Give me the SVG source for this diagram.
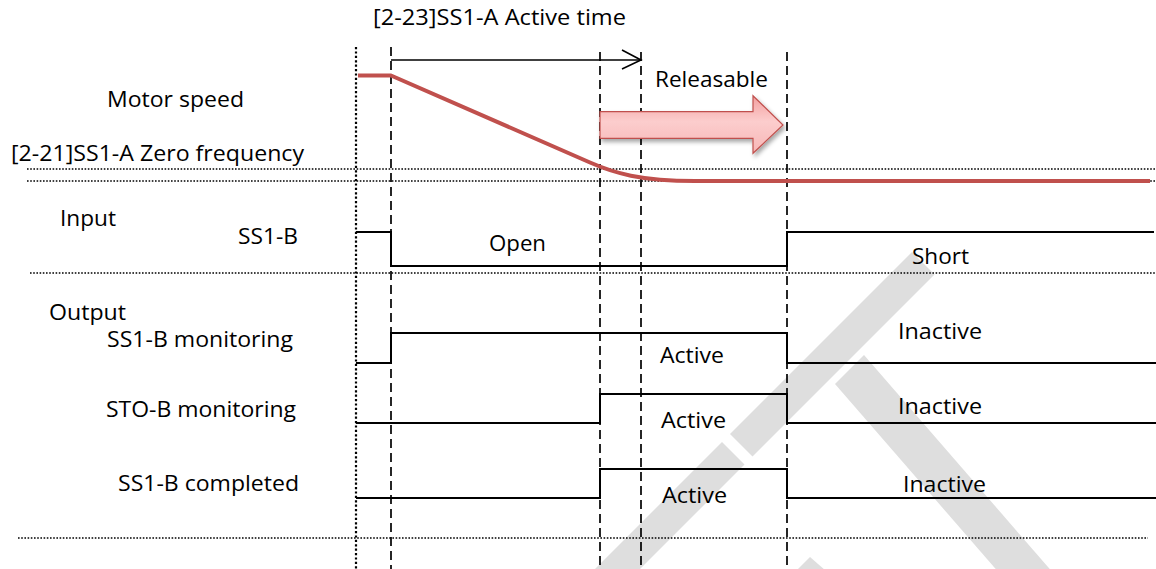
<svg xmlns="http://www.w3.org/2000/svg" width="1156" height="569" viewBox="0 0 1156 569">
  <style>
    text { font-family: "Open Sans", "Noto Sans", "Liberation Sans", sans-serif; font-size: 21.5px; fill: #000; }
    .sig { fill: none; stroke: #000; stroke-width: 2; stroke-linejoin: miter; }
    .dash { fill: none; stroke: #000; stroke-width: 1.7; stroke-dasharray: 9 5; }
    .vdot { fill: none; stroke: #000; stroke-width: 2.2; stroke-dasharray: 2.2 2.2; }
    .hdot { fill: none; stroke: #000; stroke-width: 1.6; stroke-dasharray: 1.6 1.6; }
    .speed { fill: none; stroke: #C0504D; stroke-width: 4; stroke-linejoin: round; }
    .wm { fill: #DEDEDE; }
  </style>
  <defs>
    <linearGradient id="relFill" x1="0" y1="0" x2="0" y2="1">
      <stop offset="0" stop-color="#F39F9F"/>
      <stop offset="0.45" stop-color="#FCCDCD"/>
      <stop offset="1" stop-color="#F7B6B6"/>
    </linearGradient>
    <filter id="shadow" x="-10%" y="-30%" width="130%" height="180%">
      <feDropShadow dx="2" dy="3" stdDeviation="2" flood-color="#000" flood-opacity="0.35"/>
    </filter>
  </defs>

  <rect width="1156" height="569" fill="#fff"/>

  <!-- background mark -->
  <g id="mark">
    <polygon class="wm" points="912,252 934.5,274.5 752.5,456.5 730,434"/>
    <polygon class="wm" points="722,442 744.5,464.5 554.5,654.5 532,632"/>
    <polygon class="wm" points="835,384 864,355 1094,620 1040,620"/>
    <polygon class="wm" points="810,557 880,618 830,640 770,597"/>
  </g>

  <!-- time grid -->
  <g id="grid">
    <line class="vdot" x1="356" y1="47" x2="356" y2="569"/>
    <line class="dash" x1="391" y1="47" x2="391" y2="569"/>
    <line class="dash" x1="600" y1="52" x2="600" y2="569"/>
    <line class="dash" x1="641" y1="52" x2="641" y2="569"/>
    <line class="dash" x1="787" y1="52" x2="787" y2="569"/>
    <line class="hdot" x1="27" y1="169" x2="1156" y2="169"/>
    <line class="hdot" x1="27" y1="181" x2="1156" y2="181"/>
    <line class="hdot" x1="30" y1="273" x2="1156" y2="273"/>
    <line class="hdot" x1="18" y1="538" x2="1148" y2="538"/>
  </g>

  <!-- connectors: speed curve, signal traces, timing arrow -->
  <g id="connectors">
    <path id="motor-speed" class="speed" d="M358,75.5 L391,75.5 L590,162.5 C614,173 640,181 695,181 L1150,181"/>
    <path id="ss1b-input" class="sig" d="M356,232 H391 V266 H787 V232 H1154"/>
    <path id="ss1b-monitoring" class="sig" d="M356,363 H391 V333 H787 V363 H1156"/>
    <path id="stob-monitoring" class="sig" d="M356,423 H600 V394 H787 V423 H1156"/>
    <path id="ss1b-completed" class="sig" d="M356,498 H600 V469 H787 V498 H1156"/>
    <g id="active-time-arrow" fill="none" stroke="#000" stroke-width="1.6">
      <line x1="391" y1="60" x2="640" y2="60"/>
      <polyline points="622,50 641,60 622,69"/>
    </g>
  </g>

  <!-- releasable block arrow -->
  <g id="releasable">
    <polygon points="600,111.7 753,111.7 753,95.7 783,125 753,153.3 753,138.3 600,138.3"
             fill="url(#relFill)" stroke="#C0504D" stroke-width="1.2" filter="url(#shadow)"/>
    <text x="655" y="87" textLength="113" lengthAdjust="spacingAndGlyphs">Releasable</text>
  </g>

  <!-- labels -->
  <g id="labels">
    <text x="373" y="25" textLength="253" lengthAdjust="spacingAndGlyphs">[2-23]SS1-A Active time</text>
    <text x="107" y="107" textLength="137" lengthAdjust="spacingAndGlyphs">Motor speed</text>
    <text x="11" y="161" textLength="293" lengthAdjust="spacingAndGlyphs">[2-21]SS1-A Zero frequency</text>
    <text x="60" y="226" textLength="56" lengthAdjust="spacingAndGlyphs">Input</text>
    <text x="238" y="244" textLength="60" lengthAdjust="spacingAndGlyphs">SS1-B</text>
    <text x="489" y="251" textLength="57" lengthAdjust="spacingAndGlyphs">Open</text>
    <text x="912" y="264" textLength="57" lengthAdjust="spacingAndGlyphs">Short</text>
    <text x="49" y="320" textLength="77" lengthAdjust="spacingAndGlyphs">Output</text>
    <text x="107" y="347" textLength="186" lengthAdjust="spacingAndGlyphs">SS1-B monitoring</text>
    <text x="898" y="339" textLength="84" lengthAdjust="spacingAndGlyphs">Inactive</text>
    <text x="660" y="363" textLength="64" lengthAdjust="spacingAndGlyphs">Active</text>
    <text x="106" y="417" textLength="190" lengthAdjust="spacingAndGlyphs">STO-B monitoring</text>
    <text x="898" y="414" textLength="84" lengthAdjust="spacingAndGlyphs">Inactive</text>
    <text x="661" y="428" textLength="65" lengthAdjust="spacingAndGlyphs">Active</text>
    <text x="118" y="491" textLength="181" lengthAdjust="spacingAndGlyphs">SS1-B completed</text>
    <text x="903" y="492" textLength="83" lengthAdjust="spacingAndGlyphs">Inactive</text>
    <text x="662" y="503" textLength="65" lengthAdjust="spacingAndGlyphs">Active</text>
  </g>
</svg>
